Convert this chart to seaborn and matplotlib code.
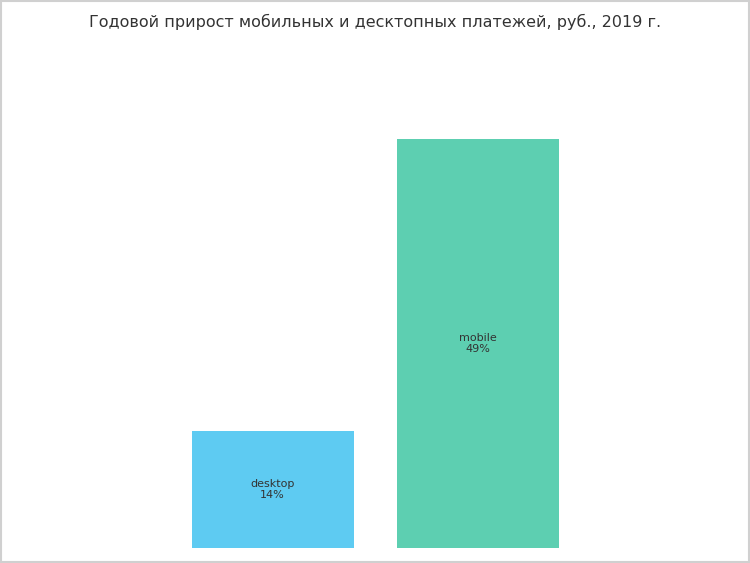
import matplotlib
matplotlib.use("Agg")
import matplotlib.pyplot as plt
import seaborn as sns
import pandas as pd
from matplotlib.patches import Rectangle

categories = ["desktop", "mobile"]
values = [14, 49]
colors = ["#5ECBF2", "#5DCFB1"]
title = "Годовой прирост мобильных и десктопных платежей, руб., 2019 г."

sns.set_theme(style="white")
plt.rcParams['font.family'] = ['DejaVu Sans']

df = pd.DataFrame({"cat": categories, "val": values})

fig = plt.figure(figsize=(7.5, 5.63), dpi=100)
H = 563.0
ax = fig.add_axes([0, (H - 548) / H, 1, (548 - 139) / H])
sns.barplot(data=df, x="cat", y="val", hue="cat", palette=colors,
            width=162 / 205, legend=False, ax=ax, saturation=1, linewidth=0)
ax.set_xlim(-272.5 / 205, (750 - 272.5) / 205)
ax.set_ylim(0, 49)
ax.axis("off")

for i, (c, v) in enumerate(zip(categories, values)):
    ax.text(i, v / 2, f"{c}\n{v}%", ha="center", va="center",
            fontsize=8, color="#333333", linespacing=1.1)

fig.text(0.5, 1 - 22 / H, title, ha="center", va="center",
         fontsize=11.5, color="#333333")

fig.patches.append(Rectangle((0.001, 0.001), 0.998, 0.997, transform=fig.transFigure,
                             fill=False, edgecolor="#D0D0D0", linewidth=1.5))

fig.savefig("out.png", dpi=100)
